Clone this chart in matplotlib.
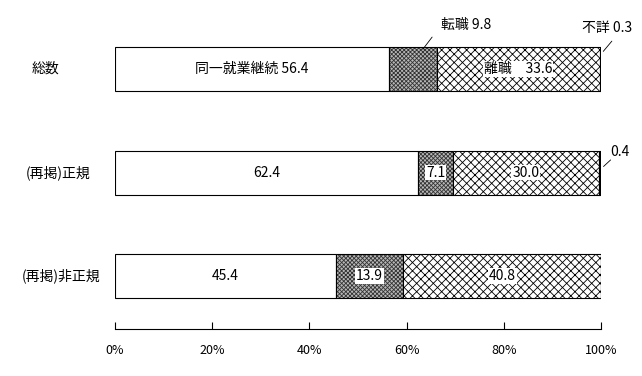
import matplotlib
matplotlib.use("Agg")
import matplotlib.pyplot as plt

plt.rcParams.update({"font.family": ["Noto Sans CJK JP", "DejaVu Sans"], "hatch.linewidth": 0.6})

groups = ["総数", "(再掲)正規", "(再掲)非正規"]
series = ["同一就業継続", "転職", "離職", "不詳"]
same_job = [56.4, 62.4, 45.4]
job_change = [9.8, 7.1, 13.9]
left_job = [33.6, 30.0, 40.8]
unknown = [0.3, 0.4, 0.0]
ticks = [0, 20, 40, 60, 80, 100]

fig = plt.figure(figsize=(6.42, 3.76), dpi=100)
ax = fig.add_axes([115 / 642, 47 / 376, 486 / 642, 314 / 376])

ypos = list(range(len(groups)))
h = 0.425
styles = [
    dict(color="white", hatch=None, hc="black"),
    dict(color="#b8b8b8", hatch="xxxxxxxx", hc="#333333"),
    dict(color="white", hatch="xxxx", hc="black"),
    dict(color="black", hatch=None, hc="black"),
]
left = [0, 0, 0]
for vals, st in zip([same_job, job_change, left_job, unknown], styles):
    # hatch layer, then the black outline
    ax.barh(ypos, vals, left=left, height=h, color=st["color"], hatch=st["hatch"],
            edgecolor=st["hc"], linewidth=0)
    ax.barh(ypos, vals, left=left, height=h, fill=False, edgecolor="black", linewidth=0.8)
    left = [a + b for a, b in zip(left, vals)]

box = dict(facecolor="white", edgecolor="none", pad=0.5)
fs = 10

# labels inside segments
ax.text(same_job[0] / 2, 0, f"同一就業継続 {same_job[0]}", ha="center", va="center", fontsize=fs)
ax.text(same_job[0] + job_change[0] + left_job[0] / 2, 0, f"離職　{left_job[0]}",
        ha="center", va="center", fontsize=fs, bbox=box)
for i in (1, 2):
    ax.text(same_job[i] / 2, i, f"{same_job[i]}", ha="center", va="center", fontsize=fs)
    ax.text(same_job[i] + job_change[i] / 2, i, f"{job_change[i]}", ha="center", va="center",
            fontsize=fs, bbox=box)
    ax.text(same_job[i] + job_change[i] + left_job[i] / 2, i, f"{left_job[i]}", ha="center",
            va="center", fontsize=fs, bbox=box)

# leader labels
line = dict(arrowstyle="-", lw=0.6, color="black")
ax.annotate("", xy=(63.0, -0.17), xytext=(65.6, -0.33), arrowprops=line, annotation_clip=False)
ax.text(72.3, -0.43, f"転職 {job_change[0]}", ha="center", va="center", fontsize=fs, clip_on=False)
ax.annotate("", xy=(100.1, -0.15), xytext=(102.6, -0.29), arrowprops=line, annotation_clip=False)
ax.text(101.2, -0.40, f"不詳 {unknown[0]}", ha="center", va="center", fontsize=fs, clip_on=False)
ax.annotate("", xy=(100.1, 0.96), xytext=(102.4, 0.86), arrowprops=line, annotation_clip=False)
ax.text(103.8, 0.8, f"{unknown[1]}", ha="center", va="center", fontsize=fs, clip_on=False)

# category labels
for i, (g, xp) in enumerate(zip(groups, [46, 58, 61])):
    ax.text((xp - 115) / 486, i, g, transform=ax.get_yaxis_transform(), fontsize=fs,
            ha="center", va="center")

ax.set_xlim(0, 100)
ax.set_ylim(2.512, -0.522)
ax.set_yticks([])
ax.set_xticks(ticks)
ax.set_xticklabels([f"{t}%" for t in ticks], fontsize=9)
ax.tick_params(axis="x", direction="in", length=5, width=0.8, pad=11)
for s in ("left", "top", "right"):
    ax.spines[s].set_visible(False)
ax.spines["bottom"].set_linewidth(0.8)

fig.savefig("out.png", dpi=100)
